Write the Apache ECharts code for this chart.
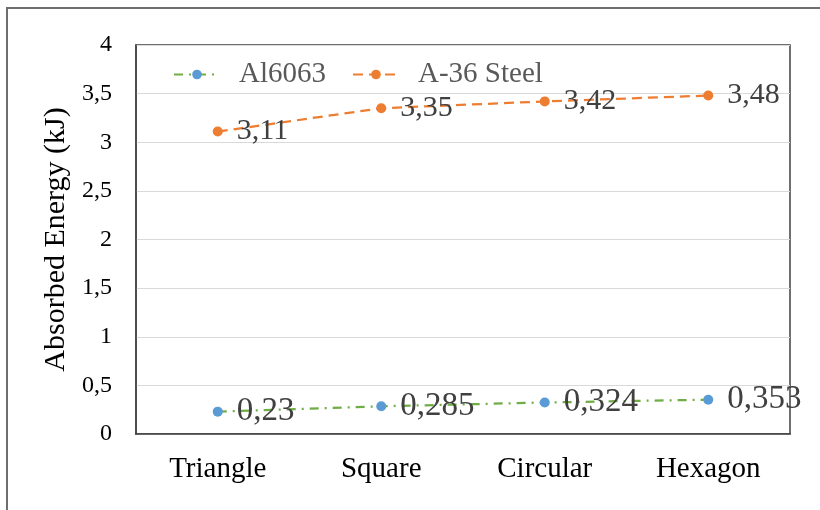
<!DOCTYPE html>
<html>
<head>
<meta charset="utf-8">
<script src="https://cdn.jsdelivr.net/npm/echarts@6/dist/echarts.min.js"></script>
<style>
html,body{margin:0;padding:0;background:#fff;}
#chart{width:820px;height:510px;}
</style>
</head>
<body>
<div id="chart"></div>
<script>
const categories = ['Triangle', 'Square', 'Circular', 'Hexagon'];
const al6063 = [0.23, 0.285, 0.324, 0.353];
const steel = [3.11, 3.35, 3.42, 3.48];
const seriesNames = ['Al6063', 'A-36 Steel'];
const yTitle = 'Absorbed Energy (kJ)';

const FONT = "'Liberation Serif', 'Times New Roman', serif";
const fmt = v => String(v).replace('.', ',');

const chart = echarts.init(document.getElementById('chart'), null, {renderer: 'canvas'});
chart.setOption({
  animation: false,
  backgroundColor: '#ffffff',
  graphic: [{
    type: 'rect',
    shape: {x: 7, y: 8, width: 840, height: 540},
    style: {fill: 'none', stroke: '#6e6e6e', lineWidth: 2},
    silent: true, z: -1
  }],
  grid: {
    left: 136, top: 45, right: 30, bottom: 76,
    show: true, borderColor: '#404040', borderWidth: 1.5
  },
  legend: {
    left: 168, top: 55,
    itemWidth: 46, itemHeight: 12, itemGap: 26,
    textStyle: {fontFamily: FONT, fontSize: 29, color: '#595959', padding: [0, 0, 0, 14]},
    data: seriesNames
  },
  xAxis: {
    type: 'category',
    data: categories,
    boundaryGap: true,
    axisLine: {show: true, lineStyle: {color: '#404040', width: 1.5}},
    axisTick: {show: false},
    axisLabel: {fontFamily: FONT, fontSize: 29, color: '#000', margin: 21}
  },
  yAxis: {
    type: 'value',
    min: 0, max: 4, interval: 0.5,
    name: yTitle,
    nameLocation: 'middle',
    nameGap: 60,
    nameTextStyle: {fontFamily: FONT, fontSize: 30, color: '#000'},
    axisLine: {show: true, lineStyle: {color: '#404040', width: 1.5}},
    axisTick: {show: false},
    splitLine: {show: true, lineStyle: {color: '#d9d9d9', width: 1}},
    axisLabel: {fontFamily: FONT, fontSize: 24, color: '#000', margin: 24, formatter: v => fmt(v)}
  },
  series: [
    {
      name: seriesNames[0],
      type: 'line',
      data: al6063,
      symbol: 'circle',
      symbolSize: 10,
      itemStyle: {color: '#5B9BD5'},
      lineStyle: {color: '#70AD47', width: 2.25, type: [9, 6, 2, 6]},
      label: {show: true, position: 'right', distance: 14, fontFamily: FONT, fontSize: 33, color: '#404040', formatter: p => fmt(p.value)}
    },
    {
      name: seriesNames[1],
      type: 'line',
      data: steel,
      symbol: 'circle',
      symbolSize: 10,
      itemStyle: {color: '#ED7D31'},
      lineStyle: {color: '#ED7D31', width: 2.25, type: [10, 6]},
      label: {show: true, position: 'right', distance: 14, fontFamily: FONT, fontSize: 30, color: '#404040', formatter: p => fmt(p.value)}
    }
  ]
});
</script>
</body>
</html>
